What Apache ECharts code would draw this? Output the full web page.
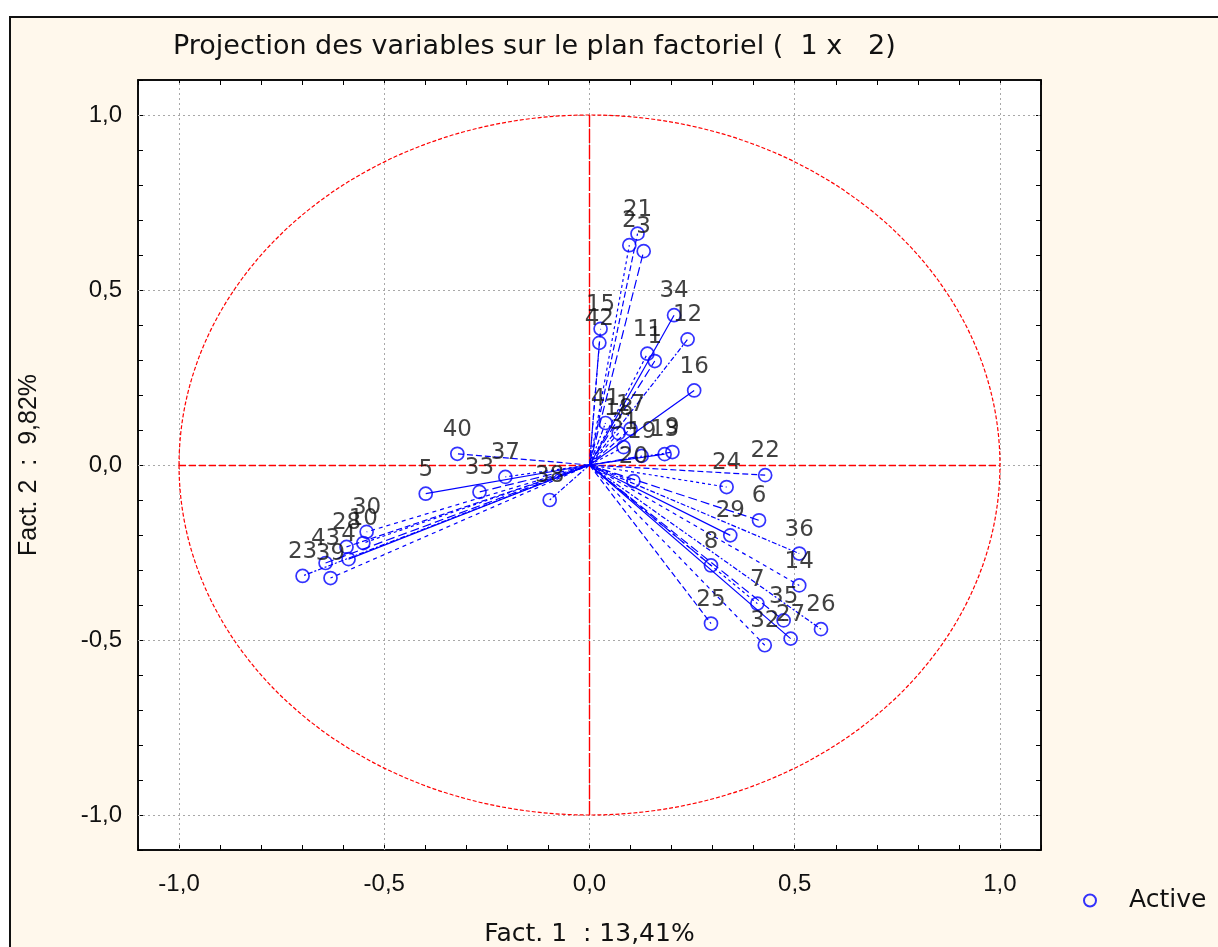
<!DOCTYPE html>
<html>
<head>
<meta charset="utf-8">
<script src="https://cdn.jsdelivr.net/npm/echarts@6/dist/echarts.min.js"></script>
<style>
  html, body { margin: 0; padding: 0; background: #ffffff; }
  #chart { width: 1218px; height: 947px; }
</style>
</head>
<body>
<div id="chart"></div>
<script>
// Variable labels and their coordinates on factors 1 and 2
const varNames = ['21','2','3','34','12','15','42','11','1','16',
                  '41','18','17','31','19','13','9','20',
                  '40','37','33','5','38','30','28','10','43','4','23','39',
                  '22','24','6','29','36','14','8','7','35','27','26','32','25'];
const fact1 = [0.117, 0.097, 0.132, 0.206, 0.239, 0.027, 0.024, 0.141, 0.159, 0.255,
               0.039, 0.071, 0.100, 0.083, 0.127, 0.183, 0.202, 0.107,
               -0.322, -0.205, -0.268, -0.399, -0.097, -0.543, -0.592, -0.551, -0.643, -0.587, -0.699, -0.631,
               0.428, 0.334, 0.413, 0.343, 0.511, 0.511, 0.296, 0.409, 0.473, 0.490, 0.564, 0.427, 0.296];
const fact2 = [0.661, 0.628, 0.611, 0.428, 0.359, 0.389, 0.349, 0.318, 0.297, 0.213,
               0.120, 0.091, 0.103, 0.051, 0.026, 0.031, 0.037, -0.046,
               0.032, -0.034, -0.077, -0.082, -0.100, -0.191, -0.234, -0.223, -0.280, -0.269, -0.317, -0.323,
               -0.029, -0.063, -0.158, -0.201, -0.253, -0.344, -0.287, -0.396, -0.444, -0.496, -0.469, -0.515, -0.453];

// Labelled tick values on both axes
const tickValues = [-1.0, -0.5, 0.0, 0.5, 1.0];

const titleText = 'Projection des variables sur le plan factoriel (  1 x   2)';
const xName = 'Fact. 1  : 13,41%';
const yName = 'Fact. 2  :  9,82%';
const seriesName = 'Active';

const SANS = "'Liberation Sans', Arial, sans-serif";
const WIDE = "'DejaVu Sans', Verdana, sans-serif";
const BLUE = '#0000ff';
const RED = '#ff0000';
// line patterns cycled over the variable vectors
const dashCycle = [[6, 3], [3, 3], [9, 4], 'solid', [5, 2, 2, 2], [4, 4]];

function tickFmt(v) {
  const r = Math.round(v * 10) / 10;
  if (Math.abs(r * 2 - Math.round(r * 2)) > 1e-9) return '';
  return (r === 0 ? 0 : r).toFixed(1).replace('.', ',');
}

const points = varNames.map((n, i) => ({ name: n, value: [fact1[i], fact2[i]] }));

const vectors = points.map((p, i) => ({
  coords: [[0, 0], p.value],
  lineStyle: { type: dashCycle[i % dashCycle.length] }
}));

const gridSegs = [];
tickValues.forEach(t => {
  gridSegs.push({ coords: [[t, -1.1], [t, 1.1]] });
  gridSegs.push({ coords: [[-1.1, t], [1.1, t]] });
});

const crossSegs = [
  { coords: [[-1, 0], [1, 0]], lineStyle: { type: [7, 3] } },
  { coords: [[0, -1], [0, 1]], lineStyle: { type: [14, 2] } }
];

function axisBase(pos, withLabels, margin) {
  return {
    type: 'value', min: -1.1, max: 1.1, interval: 0.1, position: pos,
    axisLine: { show: true, onZero: false, lineStyle: { color: '#000', width: 1.5 } },
    axisTick: { show: true, inside: true, length: 5, lineStyle: { color: '#000', width: 1 } },
    splitLine: { show: false },
    axisLabel: withLabels
      ? { show: true, formatter: tickFmt, fontSize: 24, color: '#111', fontFamily: SANS, margin: margin }
      : { show: false }
  };
}

const chart = echarts.init(document.getElementById('chart'));
chart.setOption({
  backgroundColor: '#ffffff',
  animation: false,
  graphic: [{
    type: 'rect', z: -10, silent: true,
    shape: { x: 10, y: 17, width: 1215, height: 940 },
    style: { fill: '#fff8ec', stroke: '#111', lineWidth: 2 }
  }],
  title: {
    text: titleText, left: 168, top: 28,
    textStyle: { fontSize: 27, fontWeight: 'normal', color: '#111', fontFamily: WIDE }
  },
  legend: {
    data: [seriesName], left: 1078, top: 883, itemWidth: 24, itemHeight: 12,
    textStyle: { fontSize: 25, color: '#111', fontFamily: WIDE, padding: [0, 0, 0, 22] }
  },
  grid: {
    left: 138, top: 80, width: 903, height: 770, show: true,
    containLabel: false, outerBoundsMode: 'none',
    backgroundColor: '#ffffff', borderColor: '#000', borderWidth: 1.5
  },
  xAxis: [
    Object.assign(axisBase('bottom', true, 22), {
      name: xName, nameLocation: 'middle', nameGap: 72,
      nameTextStyle: { fontSize: 25, color: '#111', fontFamily: WIDE }
    }),
    axisBase('top', false, 0)
  ],
  yAxis: [
    Object.assign(axisBase('left', true, 16), {
      name: yName, nameLocation: 'middle', nameGap: 96,
      nameTextStyle: { fontSize: 25, color: '#111', fontFamily: SANS }
    }),
    axisBase('right', false, 0)
  ],
  series: [
    {
      type: 'lines', coordinateSystem: 'cartesian2d', silent: true, z: 1,
      lineStyle: { color: '#a8a8a8', width: 1, type: [2, 3], opacity: 1 },
      data: gridSegs
    },
    {
      type: 'custom', silent: true, z: 2,
      data: [[0, 0]],
      renderItem: function (params, api) {
        const c = api.coord([0, 0]);
        const e = api.coord([1, 1]);
        const rx = e[0] - c[0], ry = c[1] - e[1];
        const d = 'M ' + (c[0] - rx) + ' ' + c[1] +
          ' A ' + rx + ' ' + ry + ' 0 1 0 ' + (c[0] + rx) + ' ' + c[1] +
          ' A ' + rx + ' ' + ry + ' 0 1 0 ' + (c[0] - rx) + ' ' + c[1] + ' Z';
        return {
          type: 'path', shape: { pathData: d },
          style: { fill: 'none', stroke: RED, lineWidth: 1.2, lineDash: [4, 2] }
        };
      }
    },
    {
      type: 'lines', coordinateSystem: 'cartesian2d', silent: true, z: 2,
      lineStyle: { color: RED, width: 1.4, opacity: 1 },
      data: crossSegs
    },
    {
      type: 'lines', coordinateSystem: 'cartesian2d', silent: true, z: 3,
      lineStyle: { color: BLUE, width: 1.2, opacity: 1 },
      data: vectors
    },
    {
      name: seriesName, type: 'scatter', z: 4,
      symbol: 'circle', symbolSize: 13,
      itemStyle: { color: 'rgba(255,255,255,0)', borderColor: BLUE, borderWidth: 1.7 },
      label: {
        show: true, position: 'top', distance: 5, offset: [7, -2],
        formatter: '{b}', fontSize: 23, color: '#111', fontFamily: WIDE
      },
      labelLayout: { hideOverlap: false },
      data: points
    }
  ]
});
</script>
</body>
</html>
